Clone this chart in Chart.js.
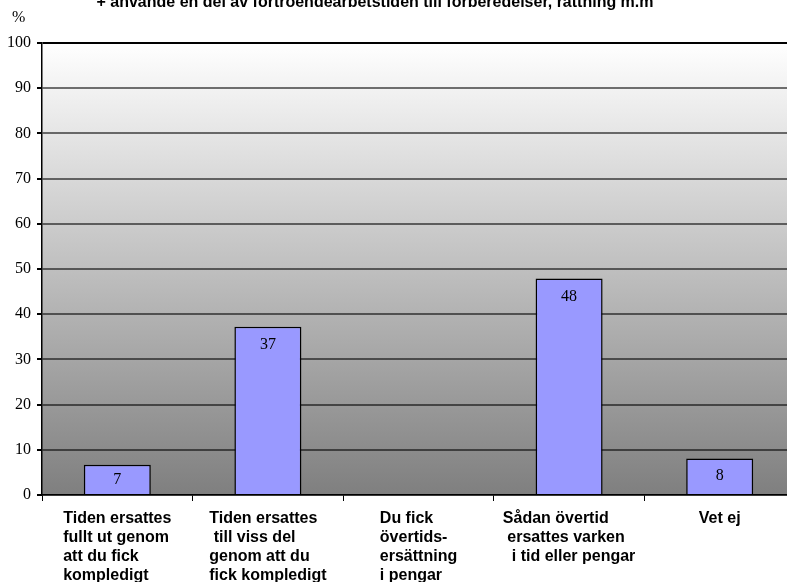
<!DOCTYPE html>
<html>
<head>
<meta charset="utf-8">
<script src="https://cdn.jsdelivr.net/npm/chart.js@4"></script>
<style>
html,body{margin:0;padding:0;overflow:hidden;background:#fff;width:787px;height:582px;}
canvas{display:block;}
</style>
</head>
<body>
<canvas id="c" width="795" height="582"></canvas>
<script>
const titleText = "+ använde en del av förtroendearbetstiden till förberedelser, rättning m.m";
const unitLabel = "%";
const categories = [
  ["Tiden ersattes", "fullt ut genom", "att du fick", "kompledigt"],
  ["Tiden ersattes", " till viss del", "genom att du", "fick kompledigt"],
  ["Du fick", "övertids-", "ersättning", "i pengar"],
  ["Sådan övertid", " ersattes varken", "  i tid eller pengar"],
  ["Vet ej"]
];
const values = [6.7, 37.2, 0, 47.9, 8.1];
const valueLabels = ["7", "37", "", "48", "8"];
const yTicks = [0, 10, 20, 30, 40, 50, 60, 70, 80, 90, 100];

const bgPlugin = {
  id: 'bg',
  beforeDraw(chart) {
    const {ctx, chartArea: a} = chart;
    const g = ctx.createLinearGradient(0, a.top, 0, a.bottom);
    g.addColorStop(0, '#ffffff');
    g.addColorStop(1, '#7f7f7f');
    ctx.save();
    ctx.fillStyle = g;
    ctx.fillRect(a.left, a.top, a.right - a.left, a.bottom - a.top);
    ctx.restore();
  }
};

const textPlugin = {
  id: 'texts',
  afterDraw(chart) {
    const {ctx, chartArea: a} = chart;
    const xs = chart.scales.x;
    ctx.save();
    ctx.font = 'bold 16px "Liberation Sans", Arial, sans-serif';
    ctx.fillStyle = '#000';
    ctx.textAlign = 'center';
    ctx.textBaseline = 'alphabetic';
    ctx.fillText(titleText, 375, 7);
    ctx.font = '16px "Liberation Serif", "Times New Roman", serif';
    ctx.textAlign = 'left';
    ctx.textBaseline = 'middle';
    ctx.fillText(unitLabel, 12, 18);
    ctx.font = 'bold 16px "Liberation Sans", Arial, sans-serif';
    ctx.textBaseline = 'middle';
    ctx.textAlign = 'left';
    categories.forEach((lines, i) => {
      const cx = xs.getPixelForValue(i);
      const w = Math.max(...lines.map(l => ctx.measureText(l).width));
      const left = cx - w / 2;
      lines.forEach((l, j) => ctx.fillText(l, left, a.bottom + 24 + j * 19));
    });
    ctx.restore();
  },
  afterDatasetsDraw(chart) {
    const {ctx} = chart;
    const meta = chart.getDatasetMeta(0);
    ctx.save();
    ctx.font = '16px "Liberation Serif", "Times New Roman", serif';
    ctx.fillStyle = '#000';
    ctx.textAlign = 'center';
    ctx.textBaseline = 'middle';
    meta.data.forEach((bar, i) => {
      const t = valueLabels[i];
      if (!t) return;
      const y = Math.min(bar.y + 18, (bar.y + bar.base) / 2);
      ctx.fillText(t, bar.x, y);
    });
    ctx.restore();
  }
};

new Chart(document.getElementById('c'), {
  type: 'bar',
  data: {
    labels: categories.map(c => c.join(' ')),
    datasets: [{
      data: values,
      backgroundColor: '#9999ff',
      borderColor: '#000',
      borderWidth: 1.5,
      categoryPercentage: 1,
      barPercentage: 0.445
    }]
  },
  options: {
    responsive: false,
    animation: false,
    devicePixelRatio: 1,
    layout: {padding: {top: 43, left: 0, right: 0, bottom: 0}},
    plugins: {legend: {display: false}, tooltip: {enabled: false}, title: {display: false}},
    scales: {
      x: {
        offset: true,
        grid: {offset: true, drawOnChartArea: false, drawTicks: true, tickLength: 6, color: '#000', lineWidth: 1},
        border: {display: true, color: '#000', width: 1.5},
        ticks: {display: false},
        afterFit(s) { s.height = 87; }
      },
      y: {
        min: 0, max: 100,
        afterBuildTicks(s) { s.ticks = yTicks.map(v => ({value: v})); },
        grid: {
          color: c => (c.tick && c.tick.value === 100) ? '#000' : 'rgba(0,0,0,0.55)',
          lineWidth: 2,
          tickColor: '#000',
          tickLength: 5,
          drawTicks: true
        },
        border: {display: true, color: '#000', width: 1.5},
        ticks: {
          color: '#000',
          padding: 6,
          font: {family: '"Liberation Serif", "Times New Roman", serif', size: 16}
        },
        afterFit(s) { s.width = 42; }
      }
    }
  },
  plugins: [bgPlugin, textPlugin]
});
</script>
</body>
</html>
